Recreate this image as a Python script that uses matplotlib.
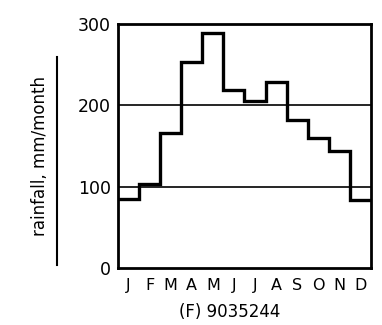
import matplotlib

matplotlib.use("Agg")
import matplotlib.pyplot as plt  # noqa: E402
import numpy as np  # noqa: E402
from matplotlib.lines import Line2D  # noqa: E402

months = ["J", "F", "M", "A", "M", "J", "J", "A", "S", "O", "N", "D"]
rainfall = [85, 103, 166, 253, 289, 219, 205, 229, 182, 160, 144, 84]
yticks = [0, 100, 200, 300]
station = "(F) 9035244"

fig = plt.figure(figsize=(3.82, 3.25), dpi=100)
ax = fig.add_axes([0.309, 0.175, 0.662, 0.751])

edges = np.arange(len(months) + 1)
ax.stairs(rainfall, edges, color="black", lw=2.4, baseline=None)
for g in (100, 200):
    ax.axhline(g, color="black", lw=1.2, zorder=1)

ax.set_xlim(0, 12)
ax.set_ylim(0, 300)
ax.set_yticks(yticks)
ax.set_yticklabels([str(v) for v in yticks], fontsize=12.5, fontweight="medium")
ax.set_xticks(np.arange(len(months)) + 0.5)
ax.set_xticklabels(months, fontsize=11.5, fontweight="medium")
ax.tick_params(axis="both", length=0)
ax.tick_params(axis="y", pad=5)
ax.tick_params(axis="x", pad=7)
for s in ax.spines.values():
    s.set_linewidth(2.0)

fig.text(0.105, 0.52, "rainfall, mm/month", rotation=90, ha="center", va="center",
         fontsize=12)
fig.add_artist(Line2D([0.149, 0.149], [0.185, 0.825], color="black", lw=1.5,
                      transform=fig.transFigure))
fig.text(0.60, 0.04, station, ha="center", va="center", fontsize=12)

fig.savefig("out.png", dpi=100)
